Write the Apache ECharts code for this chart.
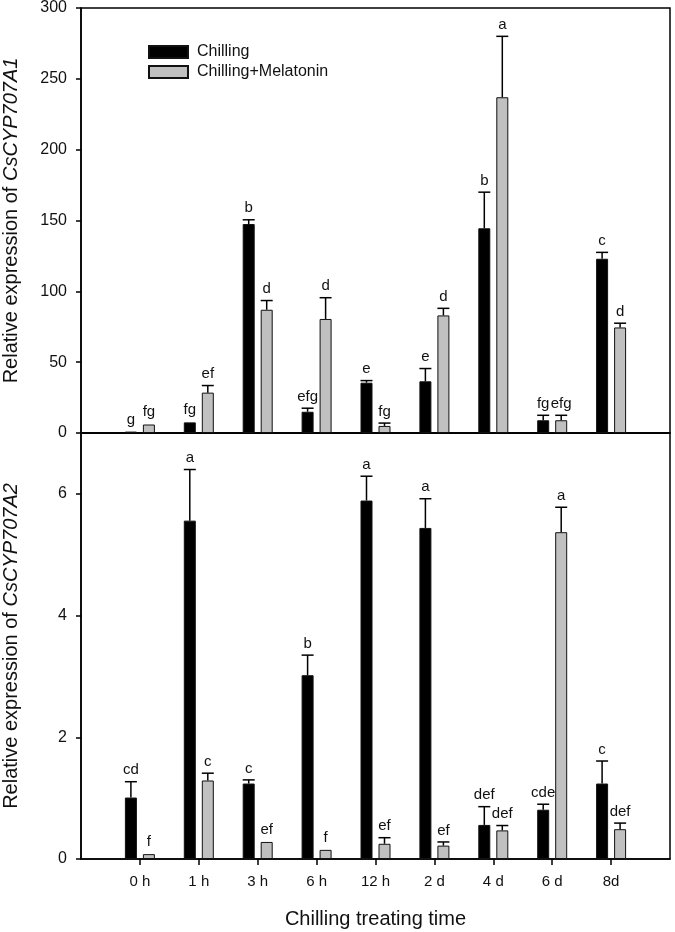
<!DOCTYPE html>
<html>
<head>
<meta charset="utf-8">
<script src="https://cdn.jsdelivr.net/npm/echarts@6/dist/echarts.min.js"></script>
<style>
html,body{margin:0;padding:0;background:#fff;}
#chart{width:675px;height:932px;}
</style>
</head>
<body>
<div id="chart"></div>
<script>
const categories = ['0 h','1 h','3 h','6 h','12 h','2 d','4 d','6 d','8d'];
const seriesNames = ['Chilling','Chilling+Melatonin'];

// Panel A: CsCYP707A1
const a1Chilling    = [1, 7.5, 147.5, 15, 35.5, 36.5, 144.5, 9, 123];
const a1ChillingErr = [0.5, 0.5, 3, 2.5, 1.5, 9, 25.5, 3.5, 4.5];
const a1ChillingLetters = ['g','fg','b','efg','e','e','b','fg','c'];
const a1Melatonin    = [6, 28.5, 87, 80.5, 5, 83, 237, 9, 74.5];
const a1MelatoninErr = [0.5, 5, 6.5, 15, 2, 5, 43, 3.5, 3];
const a1MelatoninLetters = ['fg','ef','d','d','fg','d','a','efg','d'];

// Panel B: CsCYP707A2
const a2Chilling    = [1.01, 5.56, 1.24, 3.02, 5.89, 5.44, 0.56, 0.81, 1.24];
const a2ChillingErr = [0.26, 0.84, 0.06, 0.33, 0.4, 0.48, 0.3, 0.09, 0.37];
const a2ChillingLetters = ['cd','a','c','b','a','a','def','cde','c'];
const a2Melatonin    = [0.08, 1.29, 0.28, 0.15, 0.25, 0.22, 0.47, 5.37, 0.49];
const a2MelatoninErr = [0.01, 0.12, 0.01, 0.01, 0.1, 0.06, 0.08, 0.41, 0.1];
const a2MelatoninLetters = ['f','c','ef','f','ef','ef','def','a','def'];

const yTicksA1 = {min:0, max:300, interval:50};
const yTicksA2 = {min:0, max:7, interval:2};

const FONT = "'Liberation Sans', Arial, sans-serif";
const padded = [''].concat(categories, ['']);
const pad = arr => [null].concat(arr, [null]);

const BAR_W = 12;
const OFFSET = 9;

function barSeries(name, vals, color, xi, yi) {
  return {
    name, type:'bar', xAxisIndex:xi, yAxisIndex:yi,
    data: pad(vals), barWidth: BAR_W, barGap:'50%',
    itemStyle:{color, borderColor:'#111', borderWidth:1},
    animation:false
  };
}

function errSeries(vals, errs, letters, offset, xi, yi) {
  return {
    type:'custom', xAxisIndex:xi, yAxisIndex:yi, z:5, animation:false,
    encode:{x:0, y:1},
    data: vals.map((v,i)=>[i+1, v, errs[i]]),
    renderItem: function(params, api) {
      const i = api.value(0), v = api.value(1), e = api.value(2);
      const base = api.coord([i, v]);
      const top = api.coord([i, v + e]);
      const x = base[0] + offset;
      const children = [];
      if (base[1] - top[1] > 0.8) {
        children.push({type:'line', shape:{x1:x, y1:base[1], x2:x, y2:top[1]}, style:{stroke:'#000', lineWidth:1.5}});
        children.push({type:'line', shape:{x1:x - BAR_W/2, y1:top[1], x2:x + BAR_W/2, y2:top[1]}, style:{stroke:'#000', lineWidth:1.5}});
      }
      children.push({type:'text', style:{text: letters[params.dataIndex], x:x, y: top[1]-4,
        align:'center', verticalAlign:'bottom', fontSize:15, fontFamily:FONT, fill:'#111'}});
      return {type:'group', children};
    }
  };
}

function xAxis(gi, bottom) {
  return {
    type:'category', gridIndex:gi, data:padded, boundaryGap:false,
    axisLine:{show:true, lineStyle:{color:'#000', width:1.5}},
    axisTick:{show:bottom, length:6, lineStyle:{color:'#000', width:1.5},
      interval:function(idx){ return idx>0 && idx<padded.length-1; }},
    axisLabel:{show:bottom, interval:0, fontSize:15, margin:15, color:'#111', fontFamily:FONT},
    name: bottom ? 'Chilling treating time' : '',
    nameLocation:'middle', nameGap:50,
    nameTextStyle:{fontSize:20, color:'#111', fontFamily:FONT},
    splitLine:{show:false}
  };
}

function yAxis(gi, t, gene, showMax) {
  return {
    type:'value', gridIndex:gi, min:t.min, max:t.max, interval:t.interval,
    axisLine:{show:true, lineStyle:{color:'#000', width:1.5}},
    axisTick:{show:true, length:5, lineStyle:{color:'#000', width:1.5}},
    axisLabel:{fontSize:16, margin:14, color:'#111', fontFamily:FONT, showMaxLabel:showMax},
    splitLine:{show:false},
    name:'{n|Relative expression of }{i|' + gene + '}',
    nameLocation:'middle', nameGap:60, nameRotate:90,
    nameTextStyle:{fontSize:20, color:'#111', fontFamily:FONT,
      rich:{n:{fontSize:20, color:'#111', fontFamily:FONT},
            i:{fontSize:20, color:'#111', fontFamily:FONT, fontStyle:'italic'}}}
  };
}

const chart = echarts.init(document.getElementById('chart'), null, {renderer:'canvas'});
chart.setOption({
  animation:false,
  backgroundColor:'#fff',
  grid:[
    {left:81, right:5, top:8, height:425, show:true, borderColor:'#000', borderWidth:1.5, backgroundColor:'transparent', containLabel:false, outerBoundsMode:'none'},
    {left:81, right:5, top:433, height:426, show:true, borderColor:'#000', borderWidth:1.5, backgroundColor:'transparent', containLabel:false, outerBoundsMode:'none'}
  ],
  legend:{
    data:seriesNames, orient:'vertical', left:148, top:44, padding:0,
    itemWidth:39, itemHeight:12, itemGap:4, icon:'rect',
    textStyle:{fontSize:16, color:'#111', fontFamily:FONT, padding:[0,0,0,4]}
  },
  xAxis:[xAxis(0,false), xAxis(1,true)],
  yAxis:[yAxis(0,yTicksA1,'CsCYP707A1',true), yAxis(1,yTicksA2,'CsCYP707A2',false)],
  series:[
    barSeries(seriesNames[0], a1Chilling, '#000', 0, 0),
    barSeries(seriesNames[1], a1Melatonin, '#c0c0c0', 0, 0),
    errSeries(a1Chilling, a1ChillingErr, a1ChillingLetters, -OFFSET, 0, 0),
    errSeries(a1Melatonin, a1MelatoninErr, a1MelatoninLetters, OFFSET, 0, 0),
    barSeries(seriesNames[0], a2Chilling, '#000', 1, 1),
    barSeries(seriesNames[1], a2Melatonin, '#c0c0c0', 1, 1),
    errSeries(a2Chilling, a2ChillingErr, a2ChillingLetters, -OFFSET, 1, 1),
    errSeries(a2Melatonin, a2MelatoninErr, a2MelatoninLetters, OFFSET, 1, 1)
  ]
});
</script>
</body>
</html>
